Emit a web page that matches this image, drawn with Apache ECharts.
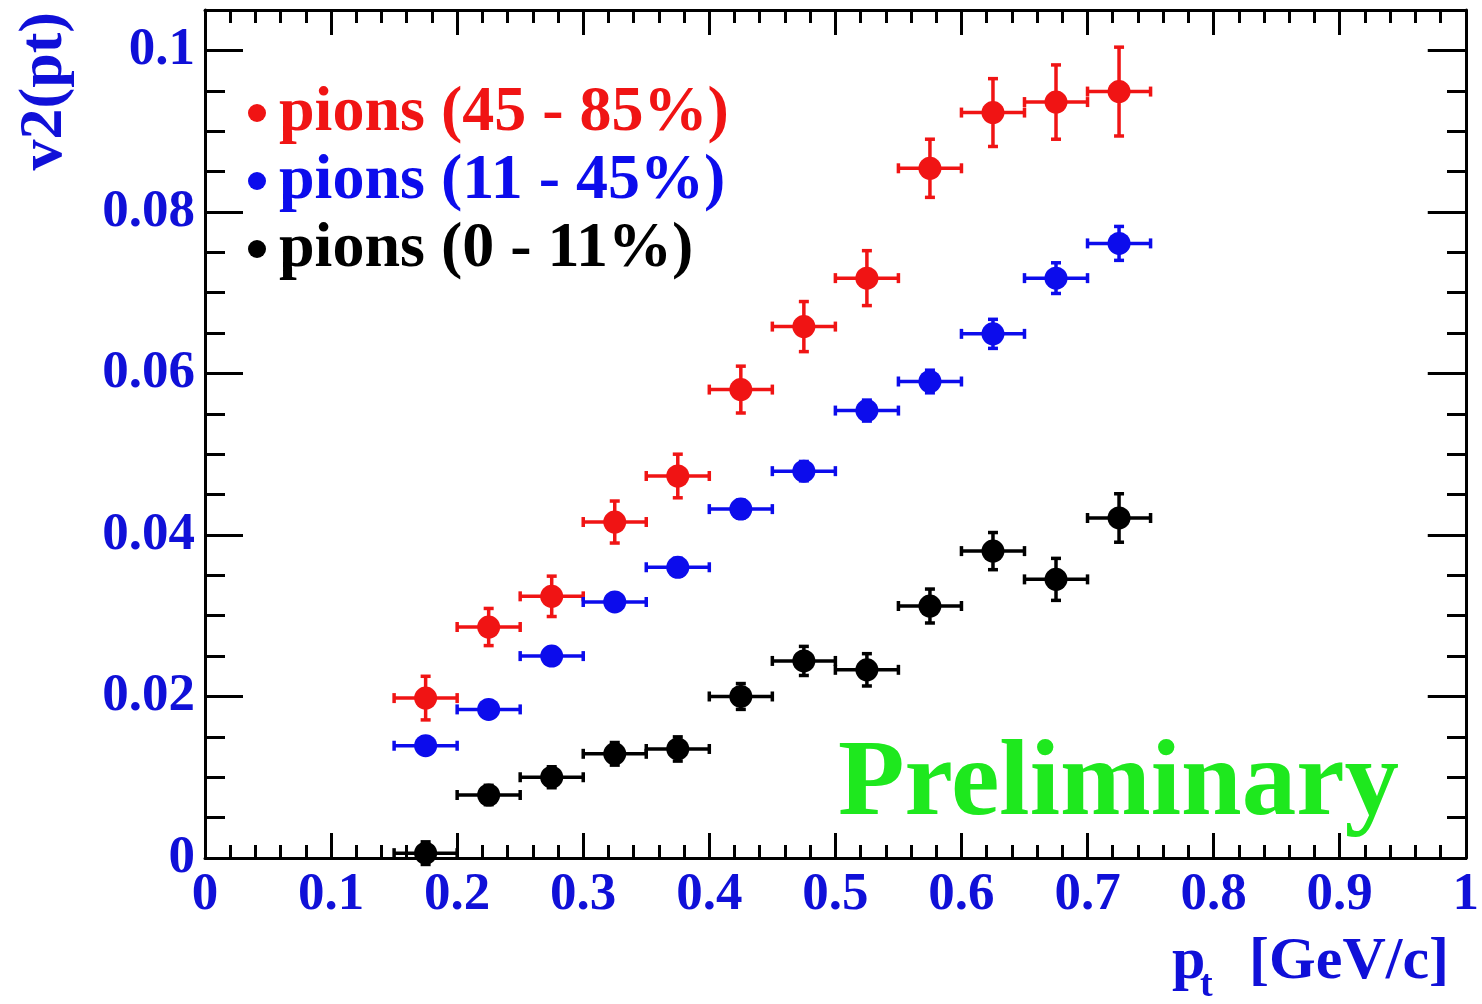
<!DOCTYPE html>
<html>
<head>
<meta charset="utf-8">
<title>v2(pt) of pions</title>
<script src="https://cdn.jsdelivr.net/npm/echarts@6/dist/echarts.min.js"></script>
<style>
  html, body { margin: 0; padding: 0; background: #ffffff; }
  #chart { width: 1482px; height: 1004px; }
</style>
</head>
<body>
<div id="chart"></div>
<script>
// pt bin centres [GeV/c] and the half width of each bin
const ptBins = [0.175, 0.225, 0.275, 0.325, 0.375, 0.425, 0.475, 0.525, 0.575, 0.625, 0.675, 0.725];
const binHalfWidth = 0.025;

// elliptic flow v2 per centrality class, with statistical errors
const v2Peripheral  = [0.0198, 0.0286, 0.0324, 0.0416, 0.0473, 0.0580, 0.0658, 0.0718, 0.0854, 0.0923, 0.0936, 0.0949];
const errPeripheral = [0.0027, 0.0023, 0.0025, 0.0026, 0.0027, 0.0029, 0.0031, 0.0034, 0.0036, 0.0042, 0.0046, 0.0055];

const v2MidCentral  = [0.0139, 0.0184, 0.0250, 0.0317, 0.0360, 0.0432, 0.0479, 0.0554, 0.0590, 0.0649, 0.0718, 0.0761];
const errMidCentral = [0.0009, 0.0009, 0.0010, 0.0010, 0.0011, 0.0011, 0.0012, 0.0013, 0.0014, 0.0018, 0.0019, 0.0021];

const v2Central  = [0.0006, 0.0078, 0.0100, 0.0129, 0.0135, 0.0200, 0.0244, 0.0233, 0.0312, 0.0380, 0.0345, 0.0421];
const errCentral = [0.0014, 0.0012, 0.0013, 0.0014, 0.0015, 0.0016, 0.0018, 0.0020, 0.0021, 0.0023, 0.0026, 0.0030];

const seriesNames = ['pions (45 - 85%)', 'pions (11 - 45%)', 'pions (0 - 11%)'];

// axis ticks
const xTickValues = [0, 0.1, 0.2, 0.3, 0.4, 0.5, 0.6, 0.7, 0.8, 0.9, 1];
const yTickValues = [0, 0.02, 0.04, 0.06, 0.08, 0.1];
const yTickLabels = ['0', '0.02', '0.04', '0.06', '0.08', '0.1'];

const RED = '#f01414';
const BLUE = '#0c0cec';
const BLACK = '#000000';
const LABEL_BLUE = '#1010d8';
const SERIF = '"Liberation Serif", "Times New Roman", "DejaVu Serif", serif';

const chart = echarts.init(document.getElementById('chart'), null, { renderer: 'canvas' });

function zipPoints(values, errors) {
  return ptBins.map((x, i) => [x, values[i], errors[i]]);
}

// horizontal bar spans the pt bin, vertical bar spans +-error; both with small end caps
function makeErrorBars(color) {
  return function (params, api) {
    const x = api.value(0), y = api.value(1), e = api.value(2);
    const l = api.coord([x - binHalfWidth, y]);
    const r = api.coord([x + binHalfWidth, y]);
    const t = api.coord([x, y + e]);
    const b = api.coord([x, y - e]);
    const cap = 5;
    const style = { stroke: color, lineWidth: 3.5 };
    const seg = (x1, y1, x2, y2) => ({ type: 'line', shape: { x1, y1, x2, y2 }, style });
    return {
      type: 'group',
      children: [
        seg(l[0], l[1], r[0], r[1]),
        seg(l[0], l[1] - cap, l[0], l[1] + cap),
        seg(r[0], r[1] - cap, r[0], r[1] + cap),
        seg(t[0], t[1], b[0], b[1]),
        seg(t[0] - cap, t[1], t[0] + cap, t[1]),
        seg(b[0] - cap, b[1], b[0] + cap, b[1])
      ]
    };
  };
}

const groups = [
  { name: seriesNames[0], color: RED, values: v2Peripheral, errors: errPeripheral },
  { name: seriesNames[1], color: BLUE, values: v2MidCentral, errors: errMidCentral },
  { name: seriesNames[2], color: BLACK, values: v2Central, errors: errCentral }
];

const series = [];
groups.forEach(g => {
  series.push({
    type: 'custom',
    name: g.name + ' errors',
    xAxisIndex: 0, yAxisIndex: 0,
    renderItem: makeErrorBars(g.color),
    data: zipPoints(g.values, g.errors),
    clip: false,
    silent: true,
    z: 2
  });
  series.push({
    type: 'scatter',
    name: g.name,
    xAxisIndex: 0, yAxisIndex: 0,
    symbol: 'circle',
    symbolSize: 23,
    itemStyle: { color: g.color, opacity: 1 },
    data: zipPoints(g.values, g.errors).map(p => [p[0], p[1]]),
    z: 3
  });
});

const gridBox = { left: 205, right: 15, top: 10, bottom: 146 };
const axisLine = { show: true, onZero: false, lineStyle: { color: '#000', width: 3 } };
const tickFont = { fontFamily: SERIF, fontWeight: 'bold', fontSize: 53, color: LABEL_BLUE };

const yLabelFormatter = v => {
  const i = yTickValues.findIndex(t => Math.abs(t - v) < 1e-9);
  return i >= 0 ? yTickLabels[i] : '';
};

const option = {
  backgroundColor: '#ffffff',
  animation: false,
  grid: [
    Object.assign({ containLabel: false }, gridBox),
    Object.assign({ containLabel: false }, gridBox)
  ],
  xAxis: [
    {
      type: 'value', gridIndex: 0, position: 'bottom',
      min: 0, max: 1, interval: 0.1,
      axisLine,
      axisTick: { show: true, inside: true, length: 25, lineStyle: { color: '#000', width: 3 } },
      minorTick: { show: true, splitNumber: 5, length: 13, lineStyle: { color: '#000', width: 3 } },
      splitLine: { show: false },
      axisLabel: Object.assign({ show: true, margin: 11, formatter: v => String(xTickValues.find(t => Math.abs(t - v) < 1e-9) ?? '') }, tickFont)
    },
    {
      type: 'value', gridIndex: 0, position: 'top',
      min: 0, max: 1, interval: 0.1,
      axisLine,
      axisTick: { show: true, inside: true, length: 25, lineStyle: { color: '#000', width: 3 } },
      minorTick: { show: true, splitNumber: 5, length: 13, lineStyle: { color: '#000', width: 3 } },
      splitLine: { show: false },
      axisLabel: { show: false }
    },
    {
      type: 'value', gridIndex: 1, min: 0, max: 1, show: false
    }
  ],
  yAxis: [
    {
      type: 'value', gridIndex: 0, position: 'left',
      min: 0, max: 0.105, interval: 0.02,
      axisLine,
      axisTick: { show: true, inside: true, length: 38, customValues: yTickValues, lineStyle: { color: '#000', width: 3 } },
      splitLine: { show: false },
      axisLabel: Object.assign({ show: true, margin: 10, customValues: yTickValues, formatter: yLabelFormatter }, tickFont)
    },
    {
      type: 'value', gridIndex: 0, position: 'right',
      min: 0, max: 0.105, interval: 0.02,
      axisLine,
      axisTick: { show: true, inside: true, length: 38, customValues: yTickValues, lineStyle: { color: '#000', width: 3 } },
      splitLine: { show: false },
      axisLabel: { show: false }
    },
    // minor ticks every 0.005 on both vertical sides
    {
      type: 'value', gridIndex: 1, position: 'left',
      min: 0, max: 0.105, interval: 0.005,
      axisLine: { show: false },
      axisTick: { show: true, inside: true, length: 20, lineStyle: { color: '#000', width: 3 } },
      splitLine: { show: false },
      axisLabel: { show: false }
    },
    {
      type: 'value', gridIndex: 1, position: 'right',
      min: 0, max: 0.105, interval: 0.005,
      axisLine: { show: false },
      axisTick: { show: true, inside: true, length: 20, lineStyle: { color: '#000', width: 3 } },
      splitLine: { show: false },
      axisLabel: { show: false }
    }
  ],
  legend: {
    orient: 'vertical',
    left: 243, top: 76,
    itemWidth: 34, itemHeight: 18, itemGap: 4,
    icon: 'circle',
    selectedMode: false,
    textStyle: { fontFamily: SERIF, fontWeight: 'bold', fontSize: 64, lineHeight: 64 },
    data: groups.map(g => ({ name: g.name, textStyle: { color: g.color } }))
  },
  graphic: [
    {
      type: 'text', x: 45, y: 12, rotation: Math.PI / 2,
      style: { text: 'v2(pt)', align: 'right', verticalAlign: 'middle', fill: LABEL_BLUE,
               font: 'bold 62px ' + SERIF }
    },
    {
      type: 'text', x: 1172, y: 962,
      style: { text: 'p', align: 'left', verticalAlign: 'middle', fill: LABEL_BLUE, font: 'bold 60px ' + SERIF }
    },
    {
      type: 'text', x: 1200, y: 986,
      style: { text: 't', align: 'left', verticalAlign: 'middle', fill: LABEL_BLUE, font: 'bold 38px ' + SERIF }
    },
    {
      type: 'text', x: 1449, y: 962,
      style: { text: '[GeV/c]', align: 'right', verticalAlign: 'middle', fill: LABEL_BLUE, font: 'bold 60px ' + SERIF }
    },
    {
      type: 'text', x: 838, y: 786,
      style: { text: 'Preliminary', align: 'left', verticalAlign: 'middle', fill: '#1ee81e', font: 'bold 109px ' + SERIF }
    }
  ],
  series
};

chart.setOption(option);
</script>
</body>
</html>
